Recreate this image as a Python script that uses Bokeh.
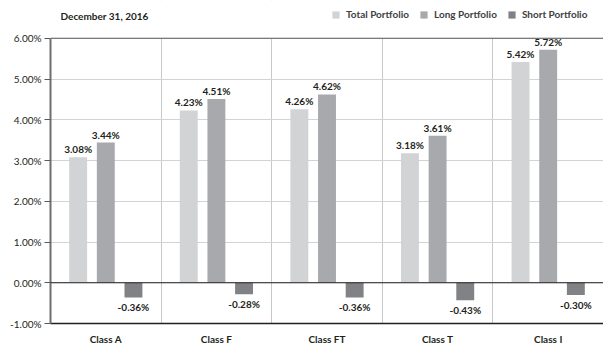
from bokeh.plotting import figure
from bokeh.models import (FactorRange, Range1d, Legend, LegendItem, Span, FixedTicker,
                          PrintfTickFormatter, ColumnDataSource, BoxAnnotation, Label)
from bokeh.transform import dodge
from bokeh.core.properties import value
from bokeh.embed import file_html
from bokeh.resources import INLINE

# ---- data ----
classes = ["Class A", "Class F", "Class FT", "Class T", "Class I"]
total_portfolio = [3.08, 4.23, 4.26, 3.18, 5.42]
long_portfolio = [3.44, 4.51, 4.62, 3.61, 5.72]
short_portfolio = [-0.36, -0.28, -0.36, -0.43, -0.30]
series_names = ["Total Portfolio", "Long Portfolio", "Short Portfolio"]
y_ticks = [-1, 0, 1, 2, 3, 4, 5, 6]
y_min, y_max = -1, 6
chart_title = "December 31, 2016"

# ---- styles / layout ----
colors = ["#d1d3d4", "#a7a9ac", "#808285"]
FONT = "Lato"
TXT = "#231f20"
H, BOTTOM = 347, 22
FRAME_H = H - BOTTOM            # frame reaches the top of the canvas
TOP_GAP = 38                    # pixels above the 6% line (title / legend area)
px_per_unit = (FRAME_H - TOP_GAP) / (y_max - y_min)
y_top = y_max + TOP_GAP / px_per_unit

src = ColumnDataSource(dict(
    cls=classes,
    total=total_portfolio,
    long=long_portfolio,
    short=short_portfolio,
    zero=[0] * len(classes),
    total_lbl=[f"{v:.2f}%" for v in total_portfolio],
    long_lbl=[f"{v:.2f}%" for v in long_portfolio],
    short_lbl=[f"{v:.2f}%" for v in short_portfolio],
))

p = figure(width=603, height=H, output_backend="svg", toolbar_location=None,
           x_range=FactorRange(factors=classes, range_padding=0),
           y_range=Range1d(y_min, y_top),
           min_border_left=50, min_border_right=0, min_border_top=0, min_border_bottom=BOTTOM)
p.outline_line_color = None
p.background_fill_color = "white"

# grids
p.ygrid.ticker = FixedTicker(ticks=y_ticks)
p.ygrid.grid_line_color = "#d1d3d4"
p.ygrid.grid_line_width = 1
p.xgrid.ticker = FixedTicker(ticks=[1, 2, 3, 4])
p.xgrid.grid_line_color = "#c7c8ca"
p.xgrid.grid_line_width = 1

# white mask above the 6% line (hides the category separators there)
p.add_layout(BoxAnnotation(bottom=y_max, fill_color="white", fill_alpha=1,
                           line_color=None, level="underlay"))

offsets = [-0.25, 0.0, 0.25]
cols = ["total", "long", "short"]
bw = 0.162
renderers = []
for off, col, c in zip(offsets, cols, colors):
    r = p.vbar(x=dodge("cls", off, range=p.x_range), top=col, bottom="zero", width=bw,
               source=src, fill_color=c, line_color=None)
    renderers.append(r)

# value labels
for off, col in zip(offsets, cols):
    neg = col == "short"
    p.text(x=dodge("cls", off, range=p.x_range), y=col, text=col + "_lbl", source=src,
           text_align="center", text_baseline="top" if neg else "bottom",
           y_offset=4 if neg else -2,
           text_font=value(FONT), text_font_size="10px", text_font_style="bold",
           text_color=TXT)

p.add_layout(Span(location=0, dimension="width", line_color=TXT, line_width=1))
p.add_layout(Span(location=y_max, dimension="width", line_color="#58595b", line_width=1.2))

# axes
p.yaxis.ticker = FixedTicker(ticks=y_ticks)
p.yaxis.bounds = (y_min, y_max)
p.yaxis.formatter = PrintfTickFormatter(format="%.2f%%")
p.yaxis.axis_line_color = "#6d6e71"
p.yaxis.axis_line_width = 2
p.yaxis.major_tick_line_color = "#58595b"
p.yaxis.major_tick_out = 6
p.yaxis.major_tick_in = 0
p.yaxis.minor_tick_line_color = None
p.yaxis.major_label_text_font = FONT
p.yaxis.major_label_text_font_size = "10px"
p.yaxis.major_label_text_color = TXT
p.yaxis.major_label_standoff = 3

p.xaxis.axis_line_color = TXT
p.xaxis.axis_line_width = 1.5
p.xaxis.major_tick_line_color = None
p.xaxis.major_tick_out = 0
p.xaxis.minor_tick_line_color = None
p.xaxis.major_label_text_font = FONT
p.xaxis.major_label_text_font_size = "10px"
p.xaxis.major_label_text_font_style = "bold"
p.xaxis.major_label_text_color = TXT
p.xaxis.major_label_standoff = 9

# title (date) at top-left
p.add_layout(Label(x=10, y=FRAME_H - 17, x_units="screen", y_units="screen",
                   text=chart_title, text_font=FONT, text_font_size="10px",
                   text_font_style="bold", text_color=TXT, text_baseline="middle"))

legend = Legend(items=[LegendItem(label=n, renderers=[r]) for n, r in zip(series_names, renderers)],
                orientation="horizontal", location=(281, FRAME_H - 22),
                padding=0, margin=0, spacing=10, label_standoff=6,
                glyph_width=9, glyph_height=9, label_height=10,
                border_line_color=None, background_fill_alpha=0,
                label_text_font=FONT, label_text_font_size="10px",
                label_text_font_style="bold", label_text_color="#414042")
p.add_layout(legend, "center")

open("out.html", "w").write(file_html(p, INLINE))
